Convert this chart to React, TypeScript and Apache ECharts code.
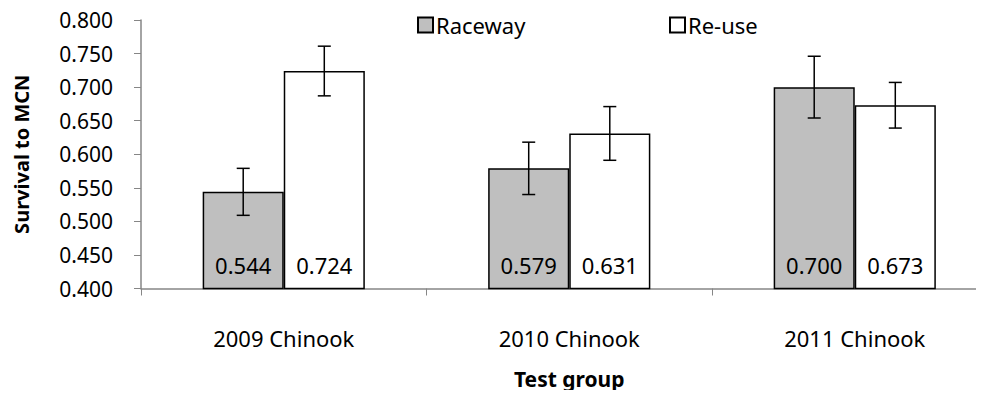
import React, { useEffect, useRef } from "react";
import * as echarts from "echarts";

const categories = ["2009 Chinook", "2010 Chinook", "2011 Chinook"];
const raceway = [0.544, 0.579, 0.7];
const reuse = [0.724, 0.631, 0.673];
const racewayErr = [0.035, 0.039, 0.046];
const reuseErr = [0.037, 0.04, 0.034];
const yTicks = { min: 0.4, max: 0.8, interval: 0.05 };

const FONT = "'Noto Sans', sans-serif";

export default function App() {
  const ref = useRef<HTMLDivElement>(null);
  useEffect(() => {
    if (!ref.current) return;
    const chart = echarts.init(ref.current, null, { renderer: "svg" });
    const errData = (vals: number[], errs: number[], side: number) =>
      vals.map((v, i) => [i, v - errs[i], v + errs[i], side]);
    const renderErr = (params: any, api: any) => {
      const cat = api.value(0);
      const lo = api.value(1);
      const hi = api.value(2);
      const side = api.value(3);
      const band = api.size([1, 0])[0];
      const bw = band * 0.284;
      const pLo = api.coord([cat, lo]);
      const pHi = api.coord([cat, hi]);
      const x = pLo[0] + (side * bw) / 2;
      const cap = 6.5;
      const style = { stroke: "#000", lineWidth: 1.5 };
      return {
        type: "group",
        children: [
          { type: "line", shape: { x1: x, y1: pLo[1], x2: x, y2: pHi[1] }, style },
          { type: "line", shape: { x1: x - cap, y1: pLo[1], x2: x + cap, y2: pLo[1] }, style },
          { type: "line", shape: { x1: x - cap, y1: pHi[1], x2: x + cap, y2: pHi[1] }, style },
        ],
      };
    };
    const labelCfg = {
      show: true,
      position: "insideBottom",
      distance: 13,
      color: "#000",
      fontSize: 22,
      fontFamily: FONT,
      formatter: (p: any) => p.value.toFixed(3),
    };
    const legendText = { fontSize: 22, color: "#000", fontFamily: FONT, padding: [0, 0, 0, -2] };
    chart.setOption({
      animation: false,
      textStyle: { fontFamily: FONT },
      legend: [
        {
          data: ["Raceway"],
          left: 412,
          top: 9,
          itemWidth: 15,
          itemHeight: 15,
          icon: "rect",
          textStyle: legendText,
        },
        {
          data: ["Re-use"],
          left: 664,
          top: 9,
          itemWidth: 15,
          itemHeight: 15,
          icon: "rect",
          textStyle: legendText,
        },
      ],
      grid: {
        left: 141,
        top: 20,
        bottom: 109.5,
        width: 856.5,
        containLabel: false,
        outerBoundsMode: "none",
      },
      xAxis: {
        type: "category",
        data: categories,
        axisLine: { lineStyle: { color: "#868686", width: 1.5 } },
        axisTick: { show: true, length: 7, lineStyle: { color: "#868686" } },
        axisLabel: { color: "#000", fontSize: 22, fontFamily: FONT, margin: 38 },
        name: "Test group",
        nameLocation: "middle",
        nameGap: 80,
        nameTextStyle: { fontSize: 21, fontWeight: "bold", color: "#000", fontFamily: FONT },
      },
      yAxis: {
        type: "value",
        min: yTicks.min,
        max: yTicks.max,
        interval: yTicks.interval,
        splitLine: { show: false },
        axisLine: { show: true, lineStyle: { color: "#868686", width: 1.5 } },
        axisTick: { show: true, length: 7, lineStyle: { color: "#868686" } },
        axisLabel: {
          color: "#000",
          fontSize: 21,
          fontFamily: FONT,
          margin: 28,
          formatter: (v: number) => v.toFixed(3),
        },
        name: "Survival to MCN",
        nameLocation: "middle",
        nameGap: 110,
        nameTextStyle: { fontSize: 20, fontWeight: "bold", color: "#000", fontFamily: FONT },
      },
      series: [
        {
          name: "Raceway",
          type: "bar",
          data: raceway,
          barGap: "0%",
          barCategoryGap: "43.2%",
          itemStyle: { color: "#BFBFBF", borderColor: "#000", borderWidth: 1.5 },
          label: labelCfg,
        },
        {
          name: "Re-use",
          type: "bar",
          data: reuse,
          itemStyle: { color: "#FFFFFF", borderColor: "#000", borderWidth: 1.5 },
          label: labelCfg,
        },
        {
          type: "custom",
          renderItem: renderErr,
          data: errData(raceway, racewayErr, -1),
          encode: { x: 0, y: [1, 2] },
          z: 10,
        },
        {
          type: "custom",
          renderItem: renderErr,
          data: errData(reuse, reuseErr, 1),
          encode: { x: 0, y: [1, 2] },
          z: 10,
        },
      ],
    });
    return () => chart.dispose();
  }, []);
  return <div ref={ref} style={{ width: 984, height: 398, margin: -8 }} />;
}
